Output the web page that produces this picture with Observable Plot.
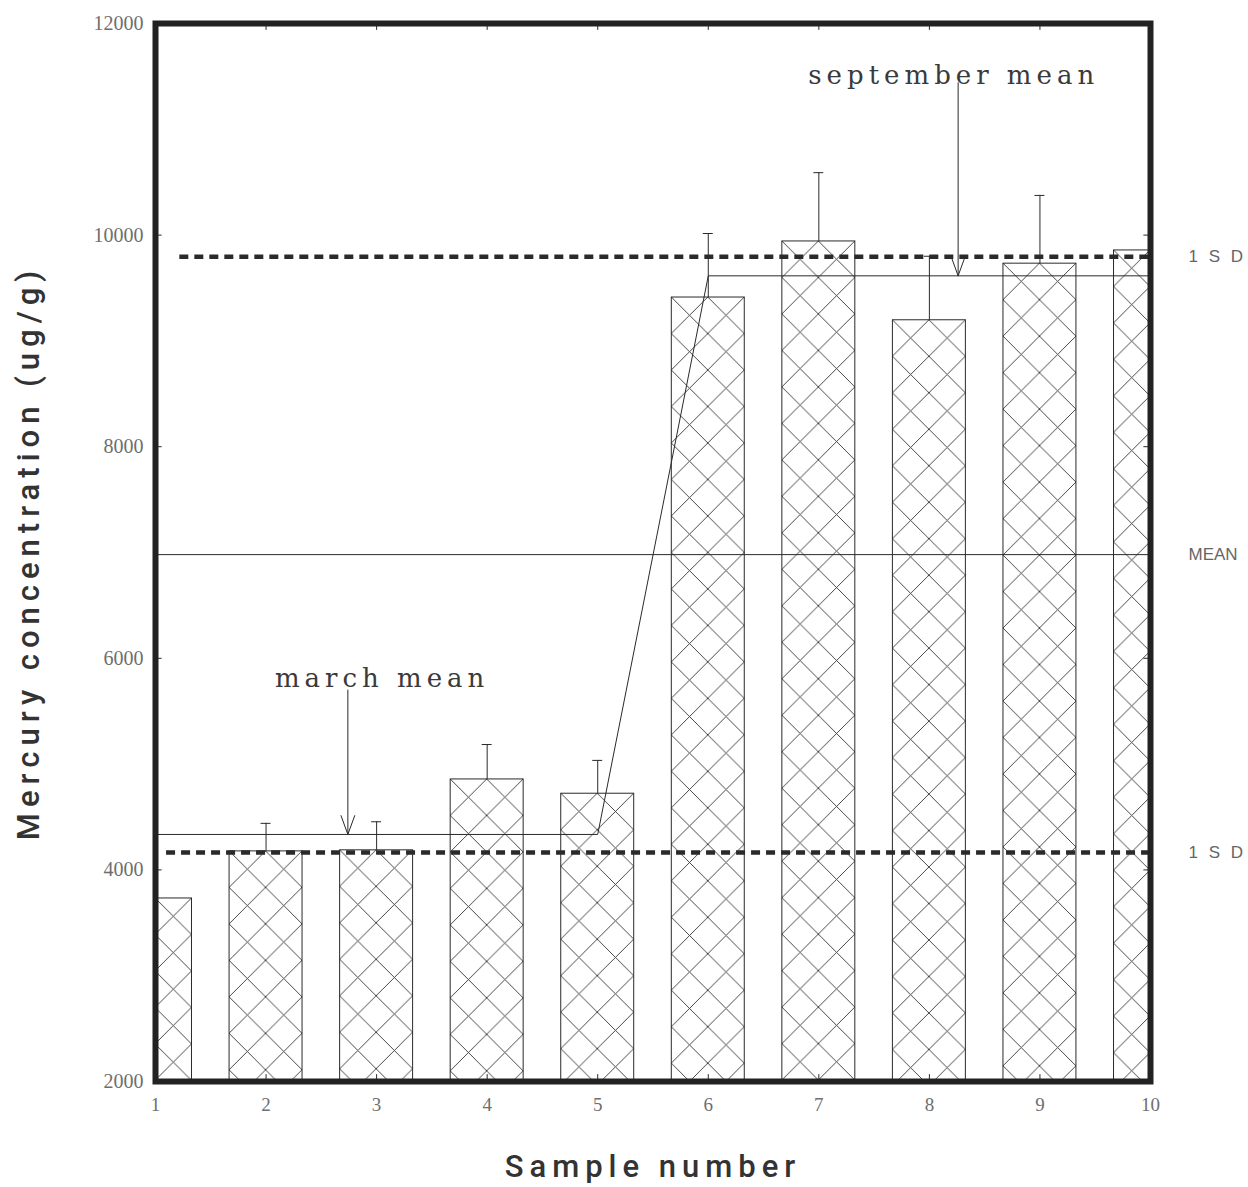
<!DOCTYPE html>
<html><head><meta charset="utf-8">
<script src="https://cdn.jsdelivr.net/npm/d3@7"></script>
<script src="https://cdn.jsdelivr.net/npm/@observablehq/plot@0.6"></script>
<style>body{margin:0;background:#fff} svg{display:block}</style>
</head><body><div id="chart"></div>
<script>
// ---- data ----
const samples = [1, 2, 3, 4, 5, 6, 7, 8, 9, 10];
const mercury = [3730, 4175, 4185, 4855, 4720, 9410, 9940, 9195, 9730, 9855];
const errorTop = [null, 4440, 4455, 5185, 5035, 10015, 10590, 9800, 10375, null];
const yTicks = [2000, 4000, 6000, 8000, 10000, 12000];
const xTicks = [1, 2, 3, 4, 5, 6, 7, 8, 9, 10];
const overallMean = 6980;
const sdOffset = 2815;
const marchSamples = [1, 2, 3, 4, 5];
const marchMean = 4335;
const septemberSamples = [6, 7, 8, 9, 10];
const septemberMean = 9615;
const annotationLabels = ["march mean", "september mean"];
const annotationLabelX = [3.05, 8.22];
const annotationLabelY = [5810, 11505];
const arrowX = [2.74, 8.26];
const arrowFrom = [5700, 11440];
const arrowTo = [marchMean, septemberMean];
const bandLabels = ["1 S D", "MEAN", "1 S D"];
const bandValues = [overallMean + sdOffset, overallMean, overallMean - sdOffset];
const sdLineStart = [1.22, 1.1];

// ---- derived tables ----
const bars = samples.map((s, i) => ({sample: s, value: mercury[i], err: errorTop[i]}));
const errs = bars.filter(d => d.err != null);
const meanPath = [
  {x: marchSamples[0], y: marchMean},
  {x: marchSamples[marchSamples.length - 1], y: marchMean},
  {x: septemberSamples[0], y: septemberMean},
  {x: septemberSamples[septemberSamples.length - 1], y: septemberMean}
];
const annotations = annotationLabels.map((t, i) => ({
  label: t, lx: annotationLabelX[i], ly: annotationLabelY[i],
  ax: arrowX[i], a1: arrowFrom[i], a2: arrowTo[i]
}));
const sdLines = [
  {y: overallMean + sdOffset, x1: sdLineStart[0]},
  {y: overallMean - sdOffset, x1: sdLineStart[1]}
];
const bands = bandLabels.map((t, i) => ({label: t, y: bandValues[i]}));
const xDom = [samples[0], samples[samples.length - 1]];
const yDom = [yTicks[0], yTicks[yTicks.length - 1]];
const halfBar = 0.33;
const tickLenY = 65;   // in data units (~7px)
const tickLenX = 0.06;

const ink = "#2a2a2a";

const plot = Plot.plot({
  width: 1248,
  height: 1187,
  marginLeft: 155,
  marginRight: 98,
  marginTop: 23,
  marginBottom: 106,
  x: {domain: xDom, axis: null},
  y: {domain: yDom, axis: null},
  style: {background: "#fff"},
  marks: [
    // hatched bars
    Plot.rect(bars, {
      x1: d => d.sample - halfBar, x2: d => d.sample + halfBar,
      y1: yDom[0], y2: "value",
      fill: "#fff", stroke: ink, strokeWidth: 1, clip: true, ariaDescription: "bars"
    }),
    // error bars
    Plot.ruleX(errs, {x: "sample", y1: "value", y2: "err", stroke: ink, strokeWidth: 1}),
    Plot.ruleY(errs, {y: "err", x1: d => d.sample - 0.045, x2: d => d.sample + 0.045, stroke: ink, strokeWidth: 1}),
    // overall mean
    Plot.ruleY([overallMean], {x1: xDom[0], x2: xDom[1], stroke: ink, strokeWidth: 1}),
    // ±1 SD dashed
    Plot.ruleY(sdLines, {y: "y", x1: "x1", x2: xDom[1], stroke: ink, strokeWidth: 4.5, strokeDasharray: "9,6"}),
    // march / september means
    Plot.line(meanPath, {x: "x", y: "y", stroke: ink, strokeWidth: 1}),
    // arrows
    Plot.arrow(annotations, {x: "ax", y1: "a1", y2: "a2", stroke: ink, strokeWidth: 1, headAngle: 40, headLength: 30}),
    Plot.text(annotations, {x: "lx", y: "ly", text: "label", fontFamily: "DejaVu Serif", fontSize: 26, fill: "#3a3a3a", textAnchor: "middle", lineAnchor: "middle", ariaDescription: "annot"}),
    // inner ticks
    Plot.ruleX(xTicks.slice(1, -1), {x: d => d, y1: yDom[0], y2: yDom[0] + tickLenY, stroke: ink}),
    Plot.ruleX(xTicks.slice(1, -1), {x: d => d, y1: yDom[1], y2: yDom[1] - tickLenY, stroke: ink}),
    Plot.ruleY(yTicks.slice(1, -1), {y: d => d, x1: xDom[0], x2: xDom[0] + tickLenX, stroke: ink}),
    Plot.ruleY(yTicks.slice(1, -1), {y: d => d, x1: xDom[1], x2: xDom[1] - tickLenX, stroke: ink}),
    // frame
    Plot.frame({stroke: "#222", strokeWidth: 6}),
    // tick labels
    Plot.text(yTicks, {y: d => d, frameAnchor: "left", dx: -12, textAnchor: "end", text: d => String(d), fontFamily: "Liberation Serif", fontSize: 20, fill: "#6e6e6e"}),
    Plot.text(xTicks, {x: d => d, frameAnchor: "bottom", dy: 23, lineAnchor: "middle", text: d => String(d), fontFamily: "Liberation Serif", fontSize: 19, fill: "#6e6e6e"}),
    // right-hand band labels
    Plot.text(bands, {y: "y", frameAnchor: "right", dx: 38, textAnchor: "start", text: "label", fontFamily: "Liberation Sans", fontSize: 17, fill: "#666", ariaDescription: "bandlabels"}),
    // axis titles
    Plot.text(["Sample number"], {frameAnchor: "bottom", dy: 86, textAnchor: "middle", lineAnchor: "middle", text: d => d, fontFamily: "Roboto", fontWeight: 500, fontSize: 31, fill: "#333", ariaDescription: "xtitle"}),
    Plot.text(["Mercury concentration (ug/g)"], {frameAnchor: "left", dx: -126, rotate: -90, textAnchor: "middle", lineAnchor: "middle", text: d => d, fontFamily: "Roboto", fontWeight: 500, fontSize: 31, fill: "#333", ariaDescription: "ytitle"})
  ]
});

// hatch patterns anchored at each bar's top-left corner
const ns = "http://www.w3.org/2000/svg";
const defs = document.createElementNS(ns, "defs");
plot.insertBefore(defs, plot.firstChild);
const barGroup = plot.querySelector('g[aria-description="bars"]') || plot.querySelector('g[aria-label="rect"]');
if (barGroup) barGroup.querySelectorAll("rect").forEach((r, i) => {
  const x = +r.getAttribute("x"), y = +r.getAttribute("y"), w = +r.getAttribute("width");
  const s = w / 2;
  const p = document.createElementNS(ns, "pattern");
  p.setAttribute("id", "hatch" + i);
  p.setAttribute("patternUnits", "userSpaceOnUse");
  p.setAttribute("x", x); p.setAttribute("y", y);
  p.setAttribute("width", s); p.setAttribute("height", s);
  const bg = document.createElementNS(ns, "rect");
  bg.setAttribute("width", s); bg.setAttribute("height", s); bg.setAttribute("fill", "#fff");
  p.appendChild(bg);
  const path = document.createElementNS(ns, "path");
  path.setAttribute("d", `M0,0L${s},${s}M${s},0L0,${s}`);
  path.setAttribute("stroke", "#333");
  path.setAttribute("stroke-width", "0.9");
  path.setAttribute("fill", "none");
  p.appendChild(path);
  defs.appendChild(p);
  r.setAttribute("fill", `url(#hatch${i})`);
  r.style.fill = `url(#hatch${i})`;
});
const spacing = (key, v, filter) => plot.querySelectorAll(`g[aria-description="${key}"] text`).forEach(t => {
  if (!filter || filter(t.textContent)) t.style.letterSpacing = v;
});
spacing("annot", "5px");
spacing("bandlabels", "3px", s => s.includes("S"));
spacing("xtitle", "6px");
spacing("ytitle", "6px");

document.getElementById("chart").appendChild(plot);
</script>
</body></html>
